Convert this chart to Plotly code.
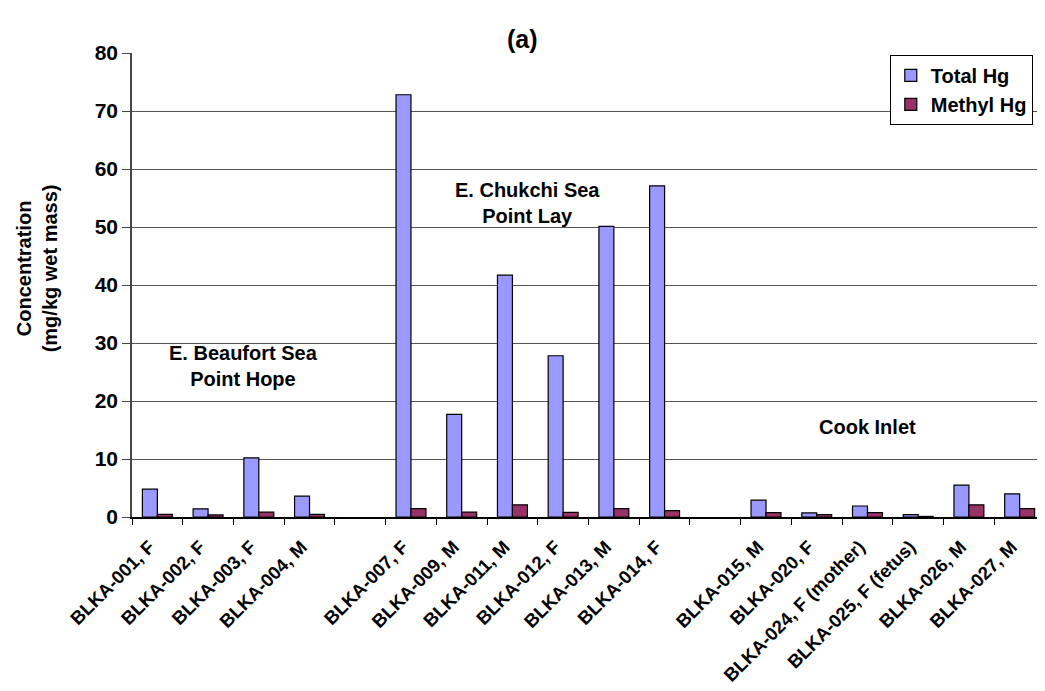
import plotly.graph_objects as go

categories = ["BLKA-001, F", "BLKA-002, F", "BLKA-003, F", "BLKA-004, M", " ",
              "BLKA-007, F", "BLKA-009, M", "BLKA-011, M", "BLKA-012, F", "BLKA-013, M", "BLKA-014, F", "  ",
              "BLKA-015, M", "BLKA-020, F", "BLKA-024, F (mother)", "BLKA-025, F (fetus)", "BLKA-026, M", "BLKA-027, M"]
total_hg = [4.8, 1.4, 10.2, 3.6, None,
            72.8, 17.7, 41.7, 27.8, 50.1, 57.1, None,
            2.9, 0.7, 1.9, 0.4, 5.5, 4.0]
methyl_hg = [0.45, 0.35, 0.85, 0.45, None,
             1.45, 0.85, 2.1, 0.8, 1.45, 1.1, None,
             0.75, 0.4, 0.75, 0.1, 2.1, 1.45]

FONT = "Liberation Sans, Arial, sans-serif"

fig = go.Figure()
fig.add_trace(go.Bar(x=categories, y=total_hg, name="Total Hg",
                     marker=dict(color="#9999FF", line=dict(color="black", width=1.2))))
fig.add_trace(go.Bar(x=categories, y=methyl_hg, name="Methyl Hg",
                     marker=dict(color="#993366", line=dict(color="black", width=1.2))))

fig.update_layout(
    width=1037, height=683,
    margin=dict(l=124, r=0, t=45, b=174, autoexpand=False),
    plot_bgcolor="white", paper_bgcolor="white",
    barmode="group", bargap=0.41, bargroupgap=0,
    font=dict(family=FONT, color="black"),
    legend=dict(x=0.83, y=0.996, xanchor="left", yanchor="top",
                bgcolor="white", bordercolor="black", borderwidth=1,
                font=dict(size=20, family=FONT, weight="bold"),
                tracegroupgap=0),
    showlegend=True,
)

fig.update_xaxes(type="category", categoryorder="array", categoryarray=categories,
                 tickangle=-45, tickfont=dict(size=18.5, family=FONT, weight="bold"),
                 ticklabelshift=-8, ticklabelstandoff=10, automargin=False,
                 showline=True, linecolor="black", linewidth=1.5,
                 ticks="outside", ticklen=6, tickcolor="black", tickson="boundaries",
                 showgrid=False, range=[-0.5, len(categories) - 0.5])
fig.update_yaxes(range=[0, 80], dtick=10, tick0=0, automargin=False,
                 tickfont=dict(size=21, family=FONT, weight="bold"),
                 showline=True, linecolor="#444", linewidth=1.5,
                 ticks="outside", ticklen=8, tickcolor="#444",
                 showgrid=True, gridcolor="#555", gridwidth=1, zeroline=False)

fig.add_annotation(x=0.428, y=1.065, xref="paper", yref="paper", showarrow=False,
                   text="<b>(a)</b>", font=dict(size=25, family=FONT))

fig.add_annotation(x=-0.133, y=0.535, xref="paper", yref="paper", textangle=-90,
                   text="<b>Concentration<br>(mg/kg wet mass)</b>", showarrow=False,
                   font=dict(size=20, family=FONT))

fig.add_annotation(x=1.69, y=26.1, xref="x", yref="y", showarrow=False,
                   text="<b>E. Beaufort Sea<br>Point Hope</b>", font=dict(size=20, family=FONT))
fig.add_annotation(x=7.3, y=54.2, xref="x", yref="y", showarrow=False,
                   text="<b>E. Chukchi Sea<br>Point Lay</b>", font=dict(size=20, family=FONT))
fig.add_annotation(x=14.0, y=15.5, xref="x", yref="y", showarrow=False,
                   text="<b>Cook Inlet</b>", font=dict(size=20, family=FONT))

fig.write_html("out.html")
